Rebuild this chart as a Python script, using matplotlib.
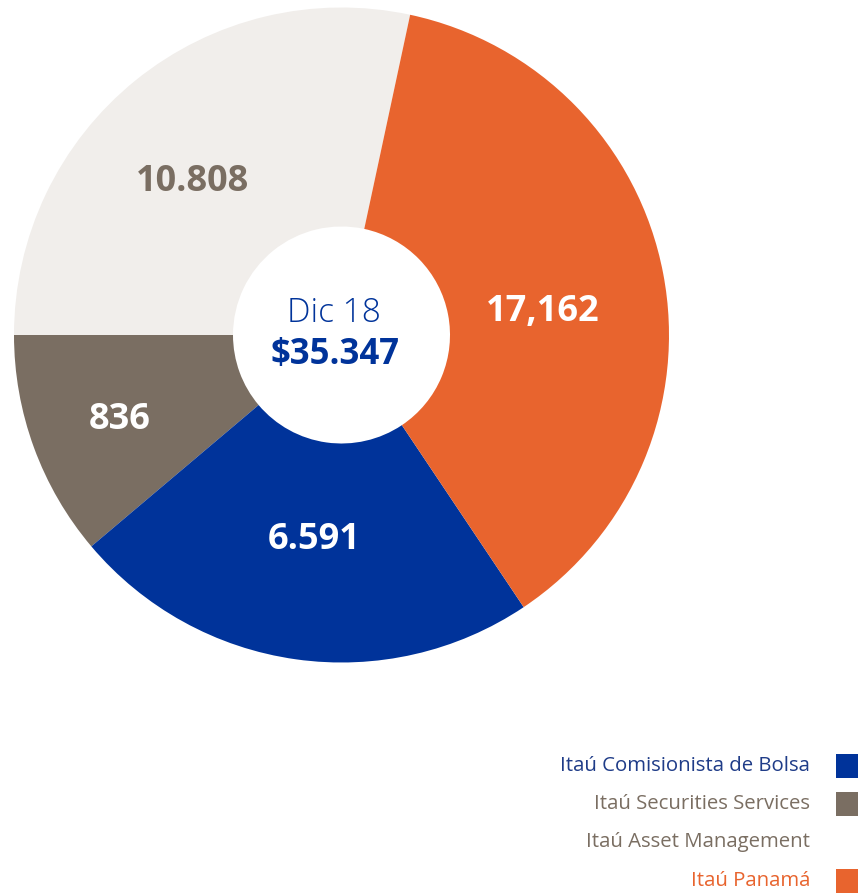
import numpy as np
import matplotlib
matplotlib.use("Agg")
import matplotlib.pyplot as plt
from matplotlib.patches import Rectangle

plt.rcParams['font.family'] = ['Open Sans', 'DejaVu Sans']

# datos
empresas = ["Itaú Asset Management", "Itaú Securities Services",
            "Itaú Comisionista de Bolsa", "Itaú Panamá"]
etiquetas = ["10.808", "836", "6.591", "17,162"]
# grados que ocupa cada porción en la imagen (no proporcional a las cifras)
grados = [102.1, 40.2, 83.6, 134.1]
colores = ["#F1EEEB", "#7A6E62", "#00339A", "#E8642E"]
color_etiqueta = ["#7A6E62", "white", "white", "white"]
radio_etiqueta = [0.66, 0.72, 0.62, 0.62]
giro_etiqueta = [4.5, 0.0, 0.2, -3.2]

titulo_centro = "Dic 18"
total_centro = "$35.347"

leyenda = ["Itaú Comisionista de Bolsa", "Itaú Securities Services",
           "Itaú Asset Management", "Itaú Panamá"]
leyenda_texto = ["#1F3C88", "#7A6E62", "#7A6E62", "#E8642E"]
leyenda_cuadro = ["#00339A", "#7A6E62", "white", "#E8642E"]

W, H = 858, 894
fig = plt.figure(figsize=(W / 100, H / 100), dpi=100)
ax = fig.add_axes([0, 0, 1, 1])

cx, cy = 341.5, H - 335
R = 327.5
r_in = 108.5

wedges, _ = ax.pie(grados, colors=colores, startangle=77.9, counterclock=True,
                   center=(cx, cy), radius=R,
                   wedgeprops=dict(width=R - r_in, edgecolor="none"))

for w, txt, c, f, g in zip(wedges, etiquetas, color_etiqueta, radio_etiqueta, giro_etiqueta):
    ang = np.deg2rad((w.theta1 + w.theta2) / 2 + g)
    ax.text(cx + f * R * np.cos(ang), cy + f * R * np.sin(ang) - 4, txt,
            ha="center", va="center", fontsize=26, fontweight="bold", color=c)

ax.text(cx - 8, cy + 22, titulo_centro, ha="center", va="center",
        fontsize=24, fontweight="light", color="#00339A")
ax.text(cx - 7, cy - 20, total_centro, ha="center", va="center",
        fontsize=25, fontweight="bold", color="#00339A")

# leyenda
y0 = H - 766
for i, (nombre, ct, cc) in enumerate(zip(leyenda, leyenda_texto, leyenda_cuadro)):
    y = y0 - i * 38.2
    ax.text(810, y, nombre, ha="right", va="center", fontsize=14.7, color=ct)
    ax.add_patch(Rectangle((836, y - 12), 30, 24, color=cc, lw=0))

ax.set_xlim(0, W)
ax.set_ylim(0, H)
ax.set_aspect("equal")
ax.axis("off")

fig.savefig("out.png", dpi=100)
